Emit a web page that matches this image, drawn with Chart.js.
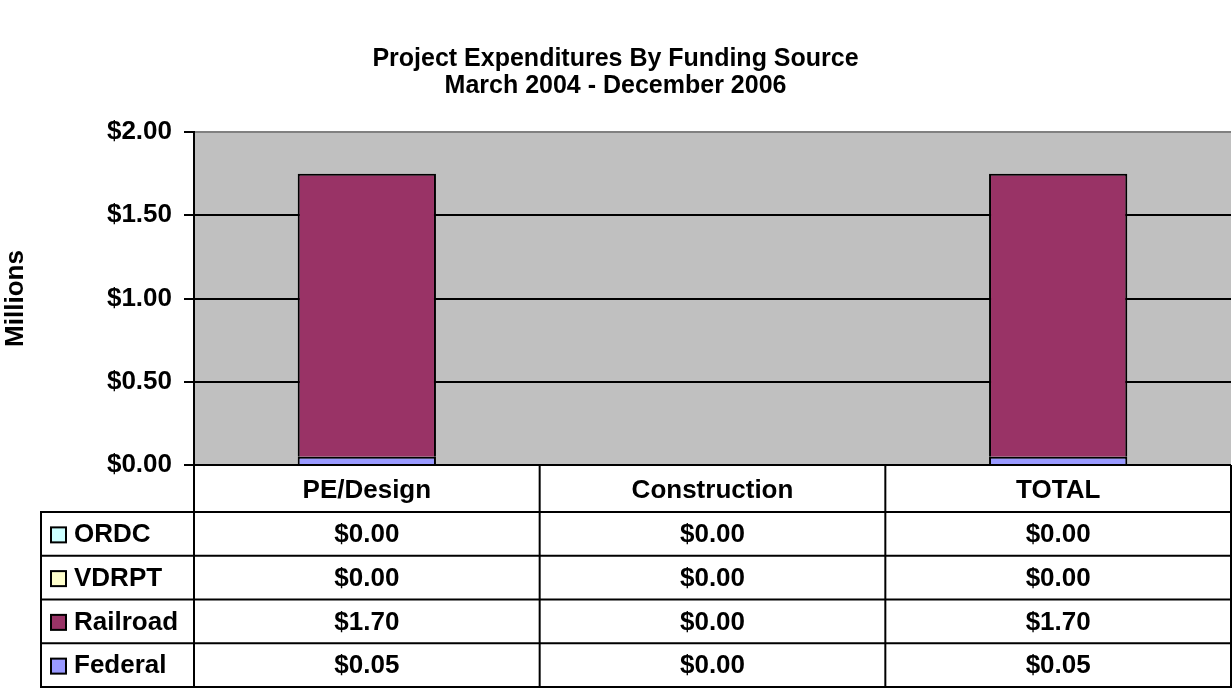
<!DOCTYPE html>
<html>
<head>
<meta charset="utf-8">
<title>Project Expenditures By Funding Source</title>
<script src="https://cdn.jsdelivr.net/npm/chart.js@4.4.1/dist/chart.umd.min.js"></script>
<style>
  body { margin: 0; background: #fff; }
  canvas { display: block; }
</style>
</head>
<body>
<canvas id="expChart" width="1232" height="688"></canvas>
<script>
const categories = ["PE/Design", "Construction", "TOTAL"];
const federal = [0.05, 0, 0.05];
const railroad = [1.70, 0, 1.70];
const vdrpt = [0, 0, 0];
const ordc = [0, 0, 0];
const titleLines = ["Project Expenditures By Funding Source", "March 2004 - December 2006"];

const FONT = "Arial, 'Liberation Sans', sans-serif";

// stacked bottom -> top
const datasets = [
  { label: "Federal", data: federal, backgroundColor: "#9999FF" },
  { label: "Railroad", data: railroad, backgroundColor: "#993366" },
  { label: "VDRPT", data: vdrpt, backgroundColor: "#FFFFCC" },
  { label: "ORDC", data: ordc, backgroundColor: "#CCFFFF" },
].map((d) => ({
  ...d,
  borderColor: "#000",
  borderWidth: 2,
  categoryPercentage: 1,
  barPercentage: 0.4,
}));

const money = (v) => "$" + v.toFixed(2);

// gray plot background
const plotBg = {
  id: "plotBg",
  beforeDraw(chart) {
    const a = chart.chartArea;
    chart.ctx.save();
    chart.ctx.fillStyle = "#C0C0C0";
    chart.ctx.fillRect(a.left, a.top, a.right - a.left, a.bottom - a.top);
    chart.ctx.restore();
  },
};

// data table under the x axis
const dataTable = {
  id: "dataTable",
  afterDraw(chart) {
    const ctx = chart.ctx;
    const x = chart.scales.x;
    const a = chart.chartArea;
    const colW = (x.right - x.left) / categories.length;
    const headBot = a.bottom + 47;
    const rowH = 43.75;
    const labelLeft = 41;
    const rows = chart.data.datasets.slice().reverse();
    const tableBot = headBot + rows.length * rowH;

    ctx.save();
    ctx.strokeStyle = "#000";
    ctx.lineWidth = 2;
    ctx.beginPath();
    for (let r = 0; r <= rows.length; r++) {
      const y = headBot + r * rowH;
      ctx.moveTo(labelLeft, y);
      ctx.lineTo(x.right, y);
    }
    ctx.moveTo(labelLeft, headBot - 1);
    ctx.lineTo(labelLeft, tableBot + 1);
    for (let c = 0; c <= categories.length; c++) {
      const xx = x.left + c * colW;
      ctx.moveTo(xx, a.bottom);
      ctx.lineTo(xx, tableBot + 1);
    }
    ctx.stroke();

    ctx.fillStyle = "#000";
    ctx.font = "bold 26px " + FONT;
    ctx.textBaseline = "middle";
    ctx.textAlign = "center";
    categories.forEach((c, i) => {
      ctx.fillText(c, x.getPixelForValue(i), (a.bottom + headBot) / 2 + 2);
    });

    rows.forEach((ds, r) => {
      const cy = headBot + r * rowH + rowH / 2 + 1;
      // legend key
      ctx.fillStyle = ds.backgroundColor;
      ctx.fillRect(51, cy - 7.5, 15, 15);
      ctx.strokeRect(51, cy - 7.5, 15, 15);
      ctx.fillStyle = "#000";
      ctx.textAlign = "left";
      ctx.fillText(ds.label, 74, cy);
      ctx.textAlign = "center";
      ds.data.forEach((v, i) => {
        ctx.fillText(money(v), x.getPixelForValue(i), cy);
      });
    });
    ctx.restore();
  },
};

new Chart(document.getElementById("expChart"), {
  type: "bar",
  data: { labels: categories, datasets: datasets },
  plugins: [plotBg, dataTable],
  options: {
    responsive: false,
    animation: false,
    events: [],
    layout: { padding: { left: 0, right: 1, top: 0, bottom: 223 } },
    plugins: {
      legend: { display: false },
      tooltip: { enabled: false },
      title: {
        display: true,
        text: titleLines,
        color: "#000",
        font: { family: FONT, size: 25, weight: "bold", lineHeight: 1.1 },
        padding: { top: 45, bottom: 32 },
      },
    },
    scales: {
      x: {
        display: false,
        stacked: true,
      },
      y: {
        stacked: true,
        min: 0,
        max: 2,
        afterFit(scale) {
          scale.width = 194;
        },
        ticks: {
          stepSize: 0.5,
          padding: 12,
          color: "#000",
          font: { family: FONT, size: 26, weight: "bold" },
          callback: (v) => money(v),
        },
        grid: {
          color: (c) => (c.tick && c.tick.value === 2 ? "#808080" : "#000"),
          tickColor: "#000",
          lineWidth: 2,
          tickLength: 10,
        },
        border: { display: true, color: "#000", width: 2 },
        title: {
          display: true,
          text: "Millions",
          color: "#000",
          font: { family: FONT, size: 26, weight: "bold", lineHeight: 1.1 },
          padding: { top: 2, bottom: 0 },
        },
      },
    },
  },
});
</script>
</body>
</html>
